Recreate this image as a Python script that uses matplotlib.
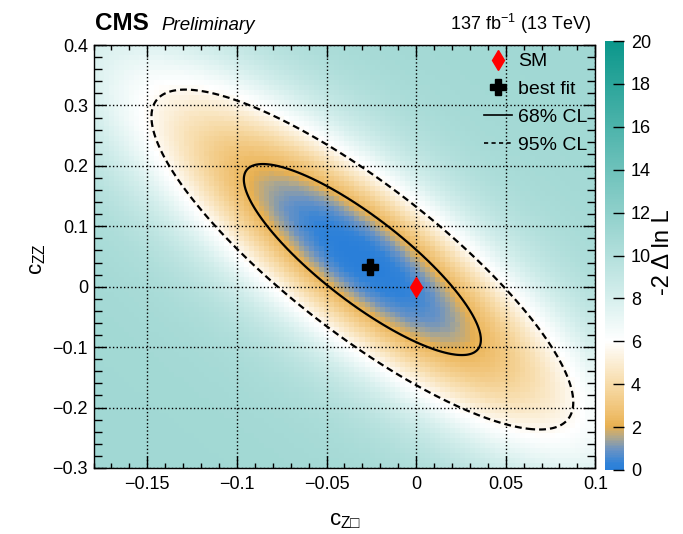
import numpy as np
import matplotlib
matplotlib.use("Agg")
import matplotlib.pyplot as plt
from matplotlib.colors import LinearSegmentedColormap
from matplotlib.lines import Line2D

# 2D scan summary (c_Zbox, c_ZZ)
best_fit = (-0.026, 0.033)
sm_point = (0.0, 0.0)
scan_center = (-0.030, 0.045)
sigma_czb = 0.0436
sigma_czz = 0.1042
rho = -0.84
shape_power = 0.83      # scan is flatter than a parabola outside 68% CL
plateau = 11.0          # -2 dlnL levels off far from the minimum
cl_levels = [2.30, 5.99]
cl_labels = ["68% CL", "95% CL"]

x_range = (-0.18, 0.10)
y_range = (-0.30, 0.40)
n_bins_x, n_bins_y = 100, 84

x_ticks = [-0.15, -0.1, -0.05, 0.0, 0.05, 0.1]
x_ticklabels = ["\u22120.15", "\u22120.1", "\u22120.05", "0", "0.05", "0.1"]
y_ticks = [-0.3, -0.2, -0.1, 0.0, 0.1, 0.2, 0.3, 0.4]
y_ticklabels = ["\u22120.3", "\u22120.2", "\u22120.1", "0", "0.1", "0.2", "0.3", "0.4"]
z_ticks = list(range(0, 21, 2))

plt.rcParams["font.family"] = ["Liberation Sans", "DejaVu Sans"]
plt.rcParams["mathtext.fontset"] = "custom"
plt.rcParams["mathtext.rm"] = "Liberation Sans"
plt.rcParams["mathtext.it"] = "Liberation Sans:italic"
plt.rcParams["mathtext.bf"] = "Liberation Sans:bold"
plt.rcParams["mathtext.default"] = "regular"


def scan(x, y):
    u = (x - scan_center[0]) / sigma_czb
    v = (y - scan_center[1]) / sigma_czz
    r2 = (u * u + v * v - 2 * rho * u * v) / (1 - rho ** 2)
    return np.where(r2 < 2.3, r2, 2.3 * (np.maximum(r2, 2.3) / 2.3) ** shape_power)


cmap = LinearSegmentedColormap.from_list(
    "cms_scan",
    [
        (0.000, "#2a7fd9"),
        (0.015, "#3283d8"),
        (0.045, "#6a93c4"),
        (0.075, "#b2a88a"),
        (0.100, "#e8b050"),
        (0.130, "#efbf6e"),
        (0.200, "#f7dcaa"),
        (0.300, "#ffffff"),
        (0.400, "#d6efed"),
        (0.600, "#8fd0cb"),
        (1.000, "#0b978b"),
    ],
)

fig = plt.figure(figsize=(6.83, 5.34), dpi=100)
ax = fig.add_axes([0.137, 0.1236, 0.7346, 0.792])
cax = fig.add_axes([0.8858, 0.12, 0.0278, 0.803])

xe = np.linspace(*x_range, n_bins_x + 1)
ye = np.linspace(*y_range, n_bins_y + 1)
xc, yc = np.meshgrid(0.5 * (xe[1:] + xe[:-1]), 0.5 * (ye[1:] + ye[:-1]))
q = scan(xc, yc)
z = q / (1 + (q / plateau) ** 3) ** (1 / 3)
mesh = ax.pcolormesh(xe, ye, z, cmap=cmap, vmin=0, vmax=20, zorder=1)

xf, yf = np.meshgrid(np.linspace(*x_range, 600), np.linspace(*y_range, 600))
qf = scan(xf, yf)
ax.contour(xf, yf, qf, levels=[cl_levels[0]], colors="black", linewidths=1.6, zorder=3)
ax.contour(xf, yf, qf, levels=[cl_levels[1]], colors="black", linewidths=1.6,
           linestyles=[(0, (3.1, 1.8))], zorder=3)

ax.plot(*sm_point, ls="none", marker="d", color="red", ms=10.5, zorder=5)
ax.plot(*best_fit, ls="none", marker="P", color="black", ms=11.5, zorder=5)

ax.set_xlim(*x_range)
ax.set_ylim(*y_range)
ax.set_xticks(x_ticks, x_ticklabels)
ax.set_yticks(y_ticks, y_ticklabels)
ax.set_xticks(np.arange(-0.18, 0.1001, 0.01), minor=True)
ax.set_yticks(np.arange(-0.3, 0.4001, 0.02), minor=True)
ax.tick_params(which="both", direction="in", top=True, right=True, width=1, labelsize=13)
ax.tick_params(axis="x", which="major", length=8.5, pad=6)
ax.tick_params(axis="x", which="minor", length=3.8)
ax.tick_params(axis="y", which="major", length=8.5, pad=4)
ax.tick_params(axis="y", which="minor", length=5.5)
ax.set_axisbelow(False)
ax.grid(True, which="major", color="black", ls=":", lw=1)
for s in ax.spines.values():
    s.set_linewidth(1)

handles = [
    Line2D([], [], ls="none", marker="d", color="red", ms=10),
    Line2D([], [], ls="none", marker="P", color="black", ms=11),
    Line2D([], [], color="black", lw=1.2),
    Line2D([], [], color="black", lw=1.2, ls=(0, (2.5, 2))),
]
ax.legend(handles, ["SM", "best fit"] + cl_labels, loc="upper right",
          bbox_to_anchor=(1.0, 1.0), frameon=False, fontsize=14,
          handlelength=1.45, handletextpad=0.3, labelspacing=0.52, borderaxespad=0.0)

cb = fig.colorbar(mesh, cax=cax, ticks=z_ticks)
cb.outline.set_visible(False)
cax.tick_params(direction="in", length=8, width=1, labelsize=13, pad=5)

fig.text(0.139, 0.944, "CMS", fontsize=17.5, fontweight="bold", ha="left", va="baseline")
fig.text(0.236, 0.944, "Preliminary", fontsize=13.5, style="italic", ha="left", va="baseline")
fig.text(0.865, 0.944, "137 fb$^{-1}$ (13 TeV)", fontsize=13, ha="right", va="baseline")
fig.text(0.055, 0.515, "c$_{ZZ}$", fontsize=16, rotation=90, ha="center", va="center")
fig.text(0.505, 0.025, "c$_{Z\u25a1}$", fontsize=16, ha="center", va="center")
fig.text(0.971, 0.527, "-2 \u0394 ln L", fontsize=17, rotation=90, ha="center", va="center")

fig.savefig("out.png", dpi=100)
